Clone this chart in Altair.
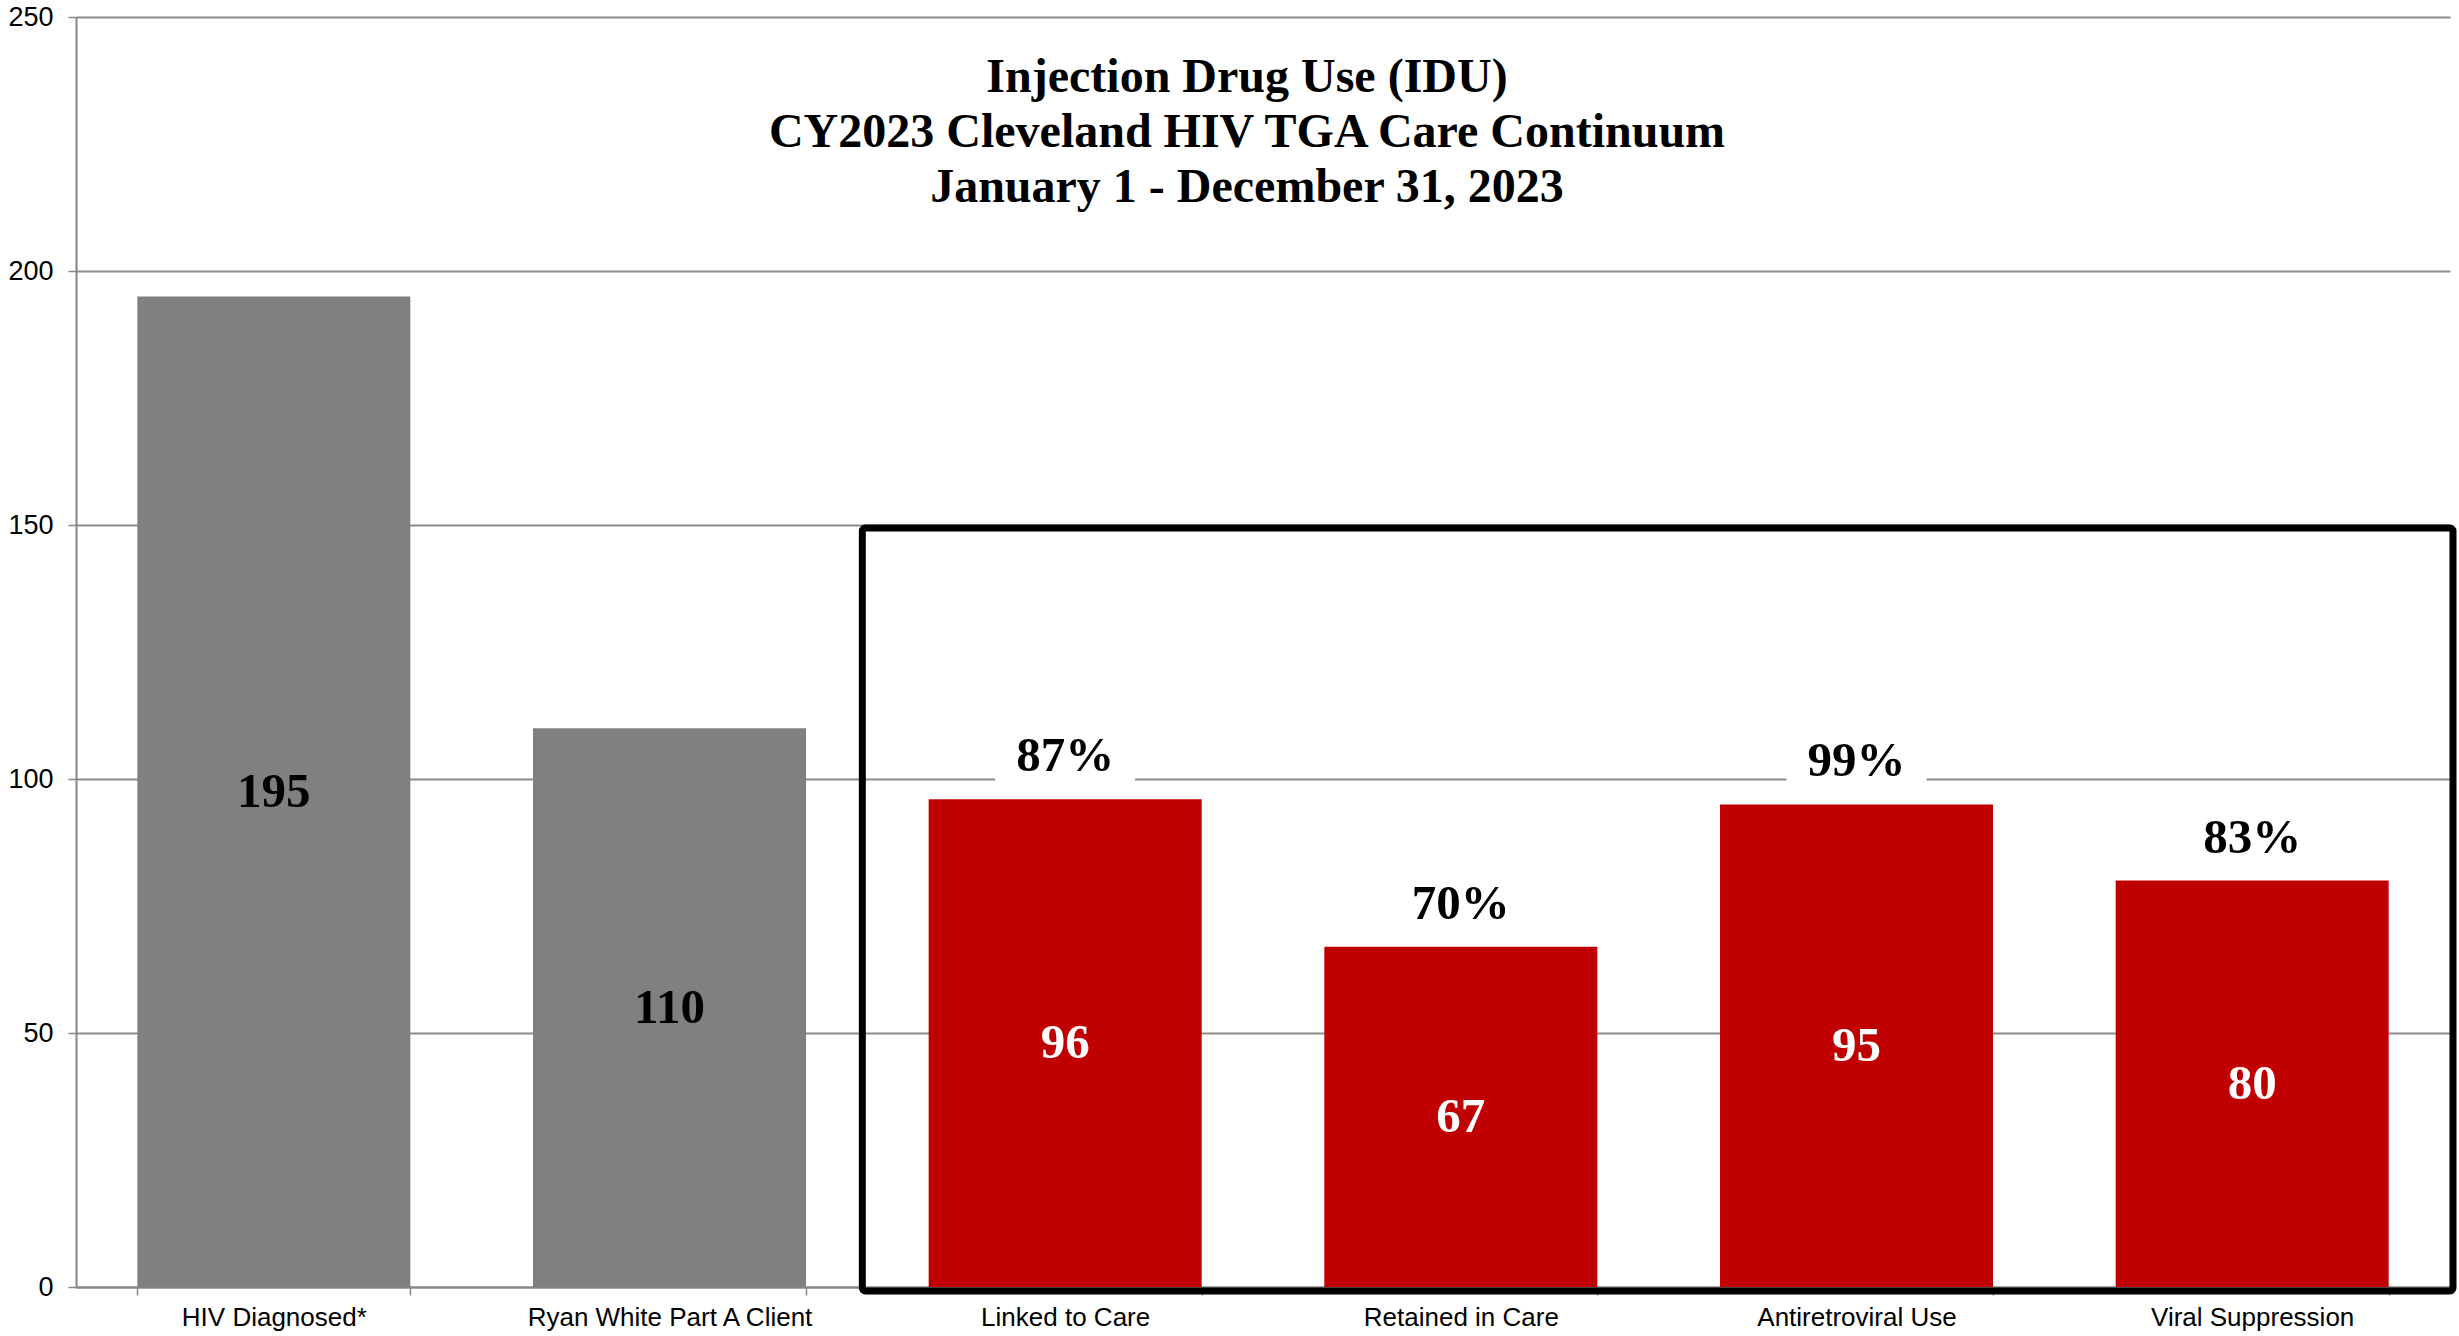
import altair as alt
import pandas as pd

# ---- data ----
categories = ["HIV Diagnosed*", "Ryan White Part A Client", "Linked to Care",
              "Retained in Care", "Antiretroviral Use", "Viral Suppression"]
counts = [195, 110, 96, 67, 95, 80]
groups = ["Diagnosed", "Diagnosed", "Continuum", "Continuum", "Continuum", "Continuum"]
percents = ["", "", "87%", "70%", "99%", "83%"]
title_lines = ["Injection Drug Use (IDU)",
               "CY2023 Cleveland HIV TGA Care Continuum",
               "January 1 - December 31, 2023"]
y_ticks = [0, 50, 100, 150, 200, 250]
box_start = [2]     # band index where the highlighted box starts
box_end = [6]       # band index where it ends
box_bottom = [0]
box_top = [150]

df = pd.DataFrame({"category": categories, "count": counts,
                   "group": groups, "pct": percents})
pct_df = df[df["pct"] != ""]
box_df = pd.DataFrame({"x0": box_start, "x1": box_end, "y0": box_bottom, "y1": box_top})
title_df = pd.DataFrame({"t": [0]})

W, H = 2374, 1270
GRAY_AX = "#868686"

yscale = alt.Scale(domain=[0, 250], nice=False)
yaxis = alt.Axis(values=y_ticks, title=None, labelFont="Liberation Sans",
                 labelFontSize=27, labelColor="black", labelPadding=15,
                 tickSize=8, tickColor=GRAY_AX, tickWidth=1.5,
                 domainColor=GRAY_AX, domainWidth=2,
                 gridColor="#8c8c8c", gridWidth=2)

xenc = alt.X("category:N", sort=categories,
             scale=alt.Scale(paddingInner=0.31, paddingOuter=0.155),
             axis=alt.Axis(title=None, labelAngle=0, labelFont="Liberation Sans",
                           labelFontSize=26, labelColor="black", labelPadding=9,
                           labelLimit=500, tickBand="extent", tickSize=8,
                           tickColor=GRAY_AX, tickWidth=1.5,
                           domainColor=GRAY_AX, domainWidth=2, grid=False))
xplain = alt.X("category:N", sort=categories)

base = alt.Chart(df)

bars = base.mark_bar().encode(
    x=xenc,
    y=alt.Y("count:Q", scale=yscale, axis=yaxis),
    color=alt.Color("group:N", scale=alt.Scale(domain=["Diagnosed", "Continuum"],
                                               range=["#808080", "#C00000"]),
                    legend=None),
)

inner_labels = base.transform_calculate(mid="datum.count / 2").mark_text(
    font="Liberation Serif", fontWeight="bold", fontSize=49, baseline="middle"
).encode(
    x=xplain,
    y=alt.Y("mid:Q", scale=yscale),
    text=alt.Text("count:Q"),
    color=alt.condition(alt.datum.group == "Diagnosed",
                        alt.value("black"), alt.value("white")),
)

pct_bg = alt.Chart(pct_df).mark_bar(width=140, color="white", yOffset=-8, y2Offset=-72).encode(
    x=xplain,
    y=alt.Y("count:Q", scale=yscale),
    y2="count:Q",
)

pct_labels = alt.Chart(pct_df).mark_text(
    font="Liberation Serif", fontWeight="bold", fontSize=49,
    baseline="alphabetic", dy=-28, color="black"
).encode(
    x=xplain,
    y=alt.Y("count:Q", scale=yscale),
    text="pct:N",
)

main = alt.layer(bars, pct_bg, pct_labels, inner_labels)

box = alt.Chart(box_df).mark_rect(
    fill="transparent", stroke="black", strokeWidth=7, cornerRadius=3,
    xOffset=-5, x2Offset=3, yOffset=4, y2Offset=3
).encode(
    x=alt.X("x0:Q", scale=alt.Scale(domain=[0, 6], nice=False, zero=False), axis=None),
    x2="x1:Q",
    y=alt.Y("y0:Q", scale=yscale),
    y2="y1:Q",
)

title = alt.Chart(title_df).mark_text(
    text=title_lines, font="Liberation Serif", fontWeight="bold", fontSize=48,
    lineHeight=55, align="center", baseline="alphabetic", color="black"
).encode(x=alt.value(1171), y=alt.value(75))

chart = alt.layer(main, box, title).resolve_scale(
    x="independent"
).properties(
    width=W, height=H,
    autosize=alt.AutoSizeParams(type="none"),
    padding={"left": 76, "top": 17, "right": 9, "bottom": 49},
    background="white",
).configure_view(stroke=None)

chart.save("out.html", embed_options={"renderer": "svg", "actions": False})
